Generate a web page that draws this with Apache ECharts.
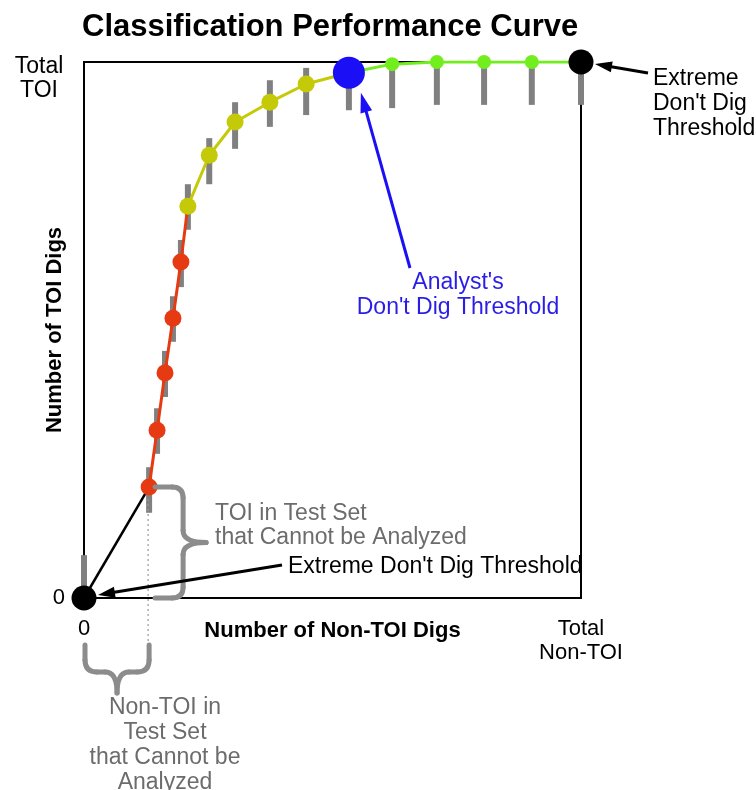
<!DOCTYPE html>
<html><head><meta charset="utf-8">
<script src="https://cdn.jsdelivr.net/npm/echarts@6/dist/echarts.min.js"></script>
<style>html,body{margin:0;padding:0;background:#fff}#c{width:756px;height:790px}</style>
</head><body><div id="c"></div>
<script>
const FONT = '"Liberation Sans", Arial, Helvetica, sans-serif';

// ---- data (percent of total) ----
const nonToiDigs = [0, 13.1, 14.7, 16.3, 17.9, 19.5, 20.9, 25.2, 30.4, 37.4, 44.7, 53.3, 62.0, 71.0, 80.5, 90.1, 100];
const toiDigs    = [0, 20.7, 31.3, 42.0, 52.2, 62.7, 73.1, 82.6, 88.8, 92.5, 95.9, 98.0, 99.6, 100, 100, 100, 100];
const toiLow     = [0, 15.9, 26.9, 37.5, 47.8, 58.0, 68.7, 77.2, 83.8, 87.9, 90.1, 91.0, 91.4, 92.0, 92.0, 92.0, 92.0];
const toiHigh    = [8.0, 24.4, 35.4, 46.1, 56.3, 66.8, 77.2, 85.8, 92.5, 96.6, 98.9, 100, 100, 100, 100, 100, 100];
const pointClass = ['extreme', 'red', 'red', 'red', 'red', 'red', 'yellow', 'yellow', 'yellow', 'yellow', 'yellow',
                    'analyst', 'green', 'green', 'green', 'green', 'extreme'];
const xTickLabels = ['0', 'Total\nNon-TOI'];
const yTickLabels = ['0', 'Total\nTOI'];
const titleText = 'Classification Performance Curve';
const xName = 'Number of Non-TOI Digs';
const yName = 'Number of TOI Digs';
const noteExtremeTop = "Extreme\nDon't Dig\nThreshold";
const noteAnalyst = "Analyst's\nDon't Dig Threshold";
const noteToi = 'TOI in Test Set\nthat Cannot be Analyzed';
const noteExtremeBottom = "Extreme Don't Dig Threshold";
const noteNonToi = 'Non-TOI in\nTest Set\nthat Cannot be\nAnalyzed';

const pts = nonToiDigs.map((x, i) => [x, toiDigs[i]]);
const segOf = (a, b) => pts.slice(a, b + 1);
const ptsOf = (cls) => pts.filter((p, i) => pointClass[i] === cls);
const firstIdx = (cls) => pointClass.indexOf(cls);
const lastIdx = (cls) => pointClass.lastIndexOf(cls);

const C = {
  red: '#e63a12', yellow: '#c4ca08', green: '#72ee1e', analyst: '#1a0ff5', extreme: '#000000',
  bar: '#808080', grey: '#6c6c6c', brace: '#8c8c8c', blueText: '#2a1ee6'
};

const chart = echarts.init(document.getElementById('c'), null, { renderer: 'canvas' });

const xLabelFmt = (v) => {
  const t = v === 0 ? xTickLabels[0] : xTickLabels[1];
  return t.split('\n').map(s => '{t|' + s + '}').join('\n');
};
const yLabelFmt = (v) => {
  if (v === 0) return '{z|' + yTickLabels[0] + '}';
  return '{sp| }\n' + yTickLabels[1].split('\n').map(s => '{t|' + s + '}').join('\n');
};

chart.setOption({
  animation: false,
  backgroundColor: '#ffffff',
  title: {
    text: titleText, left: 82, top: 12, padding: 0,
    textStyle: { fontFamily: FONT, fontSize: 31, fontWeight: 'bold', color: '#000' }
  },
  grid: {
    left: 84, top: 62, width: 497, height: 536,
    show: true, borderColor: '#000', borderWidth: 2, backgroundColor: 'transparent',
    containLabel: false, outerBoundsMode: 'none'
  },
  xAxis: {
    type: 'value', min: 0, max: 100, interval: 100,
    axisLine: { show: false }, axisTick: { show: false }, splitLine: { show: false },
    axisLabel: {
      showMinLabel: true, showMaxLabel: true, margin: 19, formatter: xLabelFmt,
      rich: { t: { fontFamily: FONT, fontSize: 22, color: '#000', lineHeight: 24 } }
    },
    name: xName, nameLocation: 'middle', nameGap: 22, nameMoveOverlap: false,
    nameTextStyle: { fontFamily: FONT, fontSize: 22, fontWeight: 'bold', color: '#000' }
  },
  yAxis: {
    type: 'value', min: 0, max: 100, interval: 100,
    axisLine: { show: false }, axisTick: { show: false }, splitLine: { show: false },
    axisLabel: {
      showMinLabel: true, showMaxLabel: true, margin: 19, formatter: yLabelFmt,
      rich: {
        z: { fontFamily: FONT, fontSize: 22, color: '#000', lineHeight: 24 },
        t: { fontFamily: FONT, fontSize: 23, color: '#000', lineHeight: 24, width: 52, align: 'center' },
        sp: { fontSize: 1, lineHeight: 34 }
      }
    },
    name: yName, nameLocation: 'middle', nameGap: 18, nameMoveOverlap: false,
    nameTextStyle: { fontFamily: FONT, fontSize: 22, fontWeight: 'bold', color: '#000' }
  },
  series: [
    {
      type: 'custom', name: 'range', z: 2, silent: true,
      data: nonToiDigs.map((x, i) => [x, toiLow[i], toiHigh[i]]),
      encode: { x: 0, y: [1, 2] },
      renderItem: (params, api) => {
        const lo = api.coord([api.value(0), api.value(1)]);
        const hi = api.coord([api.value(0), api.value(2)]);
        return { type: 'rect', shape: { x: lo[0] - 3, y: hi[1], width: 6, height: lo[1] - hi[1] },
                 style: { fill: C.bar } };
      }
    },
    { type: 'line', z: 3, silent: true, symbol: 'none', data: segOf(0, firstIdx('red')),
      lineStyle: { color: '#000', width: 2.5 } },
    { type: 'line', z: 3, silent: true, symbol: 'none', data: segOf(firstIdx('red'), firstIdx('yellow')),
      lineStyle: { color: C.red, width: 3 } },
    { type: 'line', z: 3, silent: true, symbol: 'none', data: segOf(firstIdx('yellow'), firstIdx('analyst')),
      lineStyle: { color: C.yellow, width: 3 } },
    { type: 'line', z: 3, silent: true, symbol: 'none', data: segOf(firstIdx('analyst'), lastIdx('extreme')),
      lineStyle: { color: C.green, width: 3 } },
    { type: 'scatter', z: 4, silent: true, symbolSize: 17, data: ptsOf('red'), itemStyle: { color: C.red, opacity: 1 } },
    { type: 'scatter', z: 4, silent: true, symbolSize: 17, data: ptsOf('yellow'), itemStyle: { color: C.yellow, opacity: 1 } },
    { type: 'scatter', z: 4, silent: true, symbolSize: 14, data: ptsOf('green'), itemStyle: { color: C.green, opacity: 1 } },
    { type: 'scatter', z: 5, silent: true, symbolSize: 32, data: ptsOf('analyst'), itemStyle: { color: C.analyst, opacity: 1 } },
    { type: 'scatter', z: 5, silent: true, symbolSize: 25, data: ptsOf('extreme'), itemStyle: { color: C.extreme, opacity: 1 } }
  ]
});

// ---- annotations, anchored on the data points ----
const px = (i) => chart.convertToPixel({ gridIndex: 0 }, pts[i]);
const pOrigin = px(0);
const pEnd = px(lastIdx('extreme'));
const pAnalyst = px(firstIdx('analyst'));
const pRed1 = px(firstIdx('red'));

function arrow(x1, y1, x2, y2, color, w, hl, hw) {
  const dx = x2 - x1, dy = y2 - y1, L = Math.hypot(dx, dy);
  const ux = dx / L, uy = dy / L, nx = -uy, ny = ux;
  const bx = x2 - ux * hl, by = y2 - uy * hl;
  return [
    { type: 'line', z: 50, shape: { x1, y1, x2: bx + ux * 2, y2: by + uy * 2 }, style: { stroke: color, lineWidth: w } },
    { type: 'polygon', z: 50, shape: { points: [[x2, y2], [bx + nx * hw / 2, by + ny * hw / 2], [bx - nx * hw / 2, by - ny * hw / 2]] },
      style: { fill: color } }
  ];
}
const txt = (text, x, y, color, align, lh, size) => ({
  type: 'text', z: 50, x, y,
  style: { text, fill: color, font: (size || 23) + 'px ' + FONT, align, verticalAlign: 'top', lineHeight: lh }
});
// simple path (M/L/Q) -> line + bezierCurve graphic elements
function pathEls(cmds, color, w) {
  const out = [];
  let cx = 0, cy = 0;
  const st = { stroke: color, lineWidth: w, fill: null, lineCap: 'round' };
  cmds.forEach(c => {
    if (c[0] === 'M') { cx = c[1]; cy = c[2]; }
    else if (c[0] === 'L') {
      out.push({ type: 'line', z: 40, shape: { x1: cx, y1: cy, x2: c[1], y2: c[2] }, style: st });
      cx = c[1]; cy = c[2];
    } else if (c[0] === 'Q') {
      out.push({ type: 'bezierCurve', z: 40, shape: { x1: cx, y1: cy, cpx1: c[1], cpy1: c[2], x2: c[3], y2: c[4] }, style: st });
      cx = c[3]; cy = c[4];
    }
  });
  return out;
}

const bx = pRed1[0];
const topY = pRed1[1], botY = pOrigin[1];
const midY = (topY + botY) / 2;
const rightBrace = [
  ['M', bx + 6, topY], ['L', bx + 23, topY], ['Q', bx + 34, topY, bx + 34, topY + 11],
  ['L', bx + 34, midY - 12], ['Q', bx + 34, midY, bx + 57, midY],
  ['Q', bx + 34, midY, bx + 34, midY + 12], ['L', bx + 34, botY - 11],
  ['Q', bx + 34, botY, bx + 23, botY], ['L', bx + 6, botY]
];
const lx = pOrigin[0] + 1, rx = bx;
const mx = (lx + rx) / 2;
const bTop = 645, bMid = 672, bTip = 693;
const bottomBrace = [
  ['M', lx, bTop], ['L', lx, bMid - 12], ['Q', lx, bMid, lx + 12, bMid], ['L', mx - 12, bMid],
  ['Q', mx, bMid, mx, bTip], ['Q', mx, bMid, mx + 12, bMid], ['L', rx - 12, bMid],
  ['Q', rx, bMid, rx, bMid - 12], ['L', rx, bTop]
];

const graphics = [
  ...arrow(648, 73, pEnd[0] + 14, pEnd[1] + 2, '#000', 3, 17, 11),
  txt(noteExtremeTop, 653, 66, '#000', 'left', 25),
  ...arrow(410, 268, pAnalyst[0] + 12, pAnalyst[1] + 20, C.analyst, 3, 20, 12),
  txt(noteAnalyst, 458, 270, C.blueText, 'center', 25),
  txt(noteToi, 215, 502, C.grey, 'left', 24),
  txt(noteExtremeBottom, 288, 555, '#000', 'left', 24),
  ...arrow(282, 565, pOrigin[0] + 14, pOrigin[1] - 3, '#000', 3, 17, 11),
  { type: 'line', z: 40, shape: { x1: bx - 1, y1: topY + 12, x2: bx - 1, y2: 642 },
    style: { stroke: '#999', lineWidth: 1.2, lineDash: [2, 3] } },
  ...pathEls(rightBrace, C.brace, 5),
  ...pathEls(bottomBrace, C.brace, 5),
  txt(noteNonToi, 165, 695, C.grey, 'center', 25)
];
chart.setOption({ graphic: graphics });
</script></body></html>
